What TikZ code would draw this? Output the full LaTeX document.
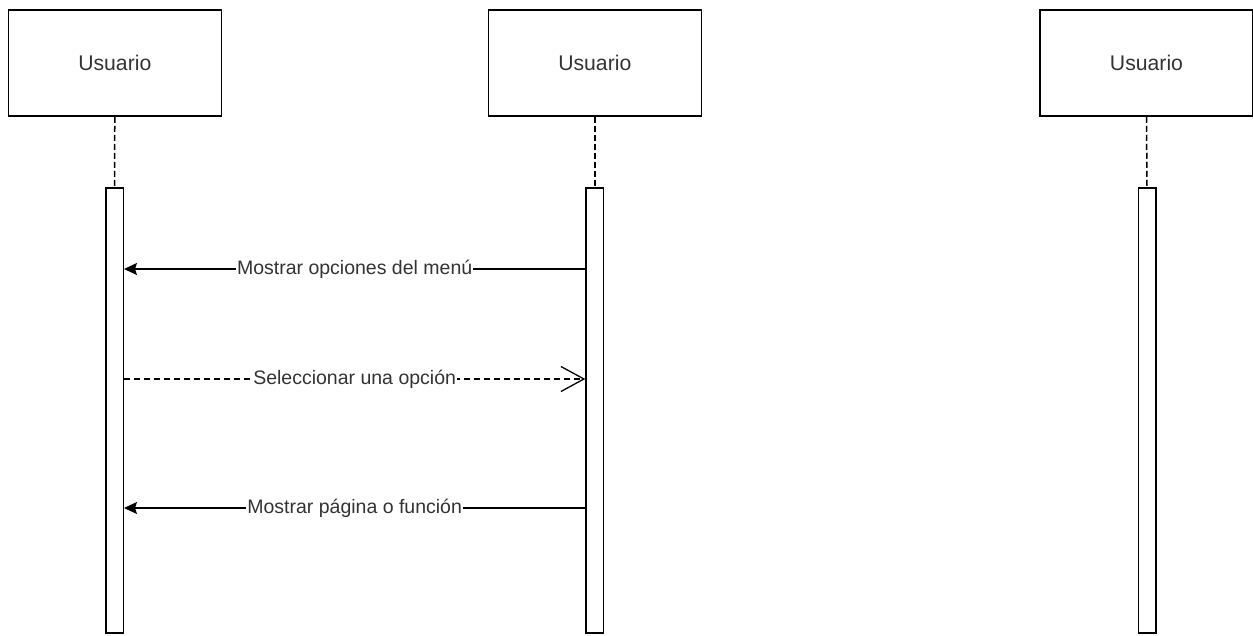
\documentclass[tikz,border=0pt]{standalone}
\usepackage{fontspec}
\setmainfont{Liberation Sans}
\usetikzlibrary{arrows.meta}
\definecolor{labeltext}{HTML}{333333}
\begin{document}
\begin{tikzpicture}[x=1pt,y=-1pt,
  participant/.style={draw=black,line width=1.5pt,fill=white,minimum width=213pt,minimum height=106pt,
    inner sep=0pt,text=labeltext,font=\fontsize{21.2pt}{24pt}\selectfont},
  activation/.style={draw=black,line width=1.5pt,fill=white,minimum width=17.5pt,minimum height=445pt,inner sep=0pt},
  lifeline/.style={line width=1.5pt,dash pattern=on 6pt off 3pt},
  call/.style={line width=1.5pt,-{Stealth[length=13pt,width=12pt,inset=2pt]}},
  reply/.style={line width=1.2pt,dash pattern=on 6pt off 4pt,-{Straight Barb[length=23pt,width=25pt,line width=1.3pt]}},
  msglabel/.style={fill=white,inner sep=1pt,text=labeltext,font=\fontsize{19.5pt}{22pt}\selectfont}]
  \useasboundingbox (0,0) rectangle (1253,635);

  % participants
  \node[participant] (p1) at (114.8,63) {Usuario};
  \node[participant] (p2) at (594.8,63) {Usuario};
  \node[participant] (p3) at (1146.5,63) {Usuario};

  % activation bars
  \node[activation] (a1) at (114.5,410.5) {};
  \node[activation] (a2) at (594.8,410.5) {};
  \node[activation] (a3) at (1147,410.5) {};

  % lifelines
  \draw[lifeline] (p1.south) -- (a1.north);
  \draw[lifeline] (p2.south) -- (a2.north);
  \draw[lifeline] (p3.south) -- (a3.north);

  % message levels
  \coordinate (m1) at (0,269);
  \coordinate (m2) at (0,379);
  \coordinate (m3) at (0,508);

  % messages
  \draw[call] (a2.west |- m1) -- node[msglabel] {Mostrar opciones del menú} (a1.east |- m1);
  \draw[reply] (a1.east |- m2) -- node[msglabel] {Seleccionar una opción} (a2.west |- m2);
  \draw[call] (a2.west |- m3) -- node[msglabel] {Mostrar página o función} (a1.east |- m3);
\end{tikzpicture}
\end{document}
